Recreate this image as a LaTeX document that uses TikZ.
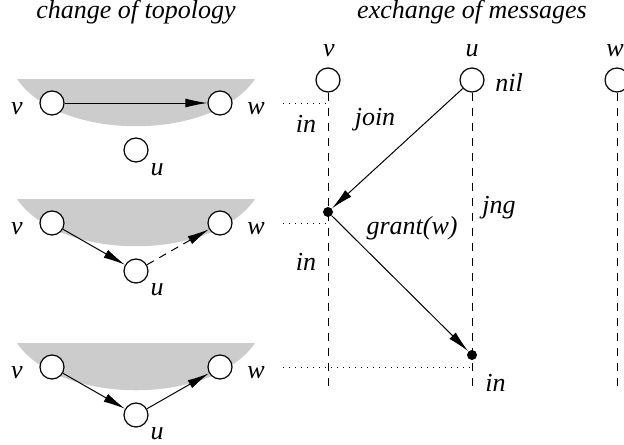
\documentclass[tikz,border=0pt]{standalone}
\usepackage{fontspec}
\setmainfont{Liberation Serif}[ItalicFont={Liberation Serif Italic}]
\usetikzlibrary{arrows.meta}
\definecolor{bowlgray}{gray}{0.8}
\begin{document}
\begin{tikzpicture}[x=0.5pt, y=-0.5pt, font=\itshape\fontsize{13}{15}\selectfont, >={Latex[length=11pt, width=4.5pt]}]
  \tikzstyle{circ} = [draw, circle, fill=white, line width=0.6pt, minimum size=12pt, inner sep=0pt]
  \tikzstyle{dot} = [fill, circle, minimum size=5pt, inner sep=0pt]
  \tikzstyle{lbl} = [anchor=base, inner sep=0pt]
  \tikzstyle{msg} = [->, line width=0.5pt]
  \tikzstyle{life} = [dash pattern=on 4pt off 3.5pt, line width=0.5pt]
  \tikzstyle{link} = [dash pattern=on 0.5pt off 2.5pt, line width=0.5pt]
  \useasboundingbox (0,0) rectangle (624,444);
  % change of topology
  \node[lbl] (topo) at (136,19) {change of topology};
  \foreach \r/\y in {1/103, 2/223, 3/367} {
    \fill[bowlgray] (17,\y-24) .. controls (60,\y+39) and (212,\y+39) .. (255,\y-24) -- cycle;
    \node[circ] (v\r) at (52,\y) {};
    \node[circ] (w\r) at (220,\y) {};
    \node[lbl] (vl\r) at (17,\y+11) {v};
    \node[lbl] (wl\r) at (256,\y+11) {w};
  }
  \node[circ] (u1) at (136,150) {};
  \node[circ] (u2) at (136,271) {};
  \node[circ] (u3) at (136,415) {};
  \node[lbl] (ul1) at (157,175) {u};
  \node[lbl] (ul2) at (157,295) {u};
  \node[lbl] (ul3) at (157,439) {u};
  \draw[msg] (v1) -- (w1);
  \draw[msg] (v2) -- (u2);
  \draw[msg, dash pattern=on 4pt off 3pt] (u2) -- (w2);
  \draw[msg] (v3) -- (u3);
  \draw[msg] (u3) -- (w3);
  % exchange of messages
  \node[lbl] (exch) at (472,19) {exchange of messages};
  \node[circ] (pv) at (328,80) {};
  \node[circ] (pu) at (472,80) {};
  \node[circ] (pw) at (617,80) {};
  \node[lbl] (pvl) at (329,57) {v};
  \node[lbl] (pul) at (472,57) {u};
  \node[lbl] (pwl) at (615,57) {w};
  \node[lbl, anchor=base west] (nil) at (495,91) {nil};
  \coordinate (ve) at (328,387);
  \coordinate (ue) at (472,387);
  \coordinate (we) at (617,387);
  \draw[life] (pv) -- (ve);
  \draw[life] (pu) -- (ue);
  \draw[life] (pw) -- (we);
  \coordinate (t1) at (283,103);
  \coordinate (t2) at (283,223);
  \coordinate (t3) at (283,367);
  \draw[link] (t1) -- (t1 -| pv);
  \draw[link] (t2) -- (t2 -| pv);
  \draw[link] (t3) -- (t3 -| pu);
  \node[dot] (d1) at (328,212) {};
  \node[dot] (d2) at (472,355) {};
  \draw[msg] (pu) -- (d1);
  \draw[msg] (d1) -- (d2);
  \node[lbl] (join) at (375,125) {join};
  \node[lbl] (grant) at (412,234) {grant(w)};
  \node[lbl, anchor=base west] (jng) at (482,213) {jng};
  \node[lbl] (in1) at (306,132) {in};
  \node[lbl] (in2) at (306,270) {in};
  \node[lbl, anchor=base west] (in3) at (485,391) {in};
\end{tikzpicture}
\end{document}
